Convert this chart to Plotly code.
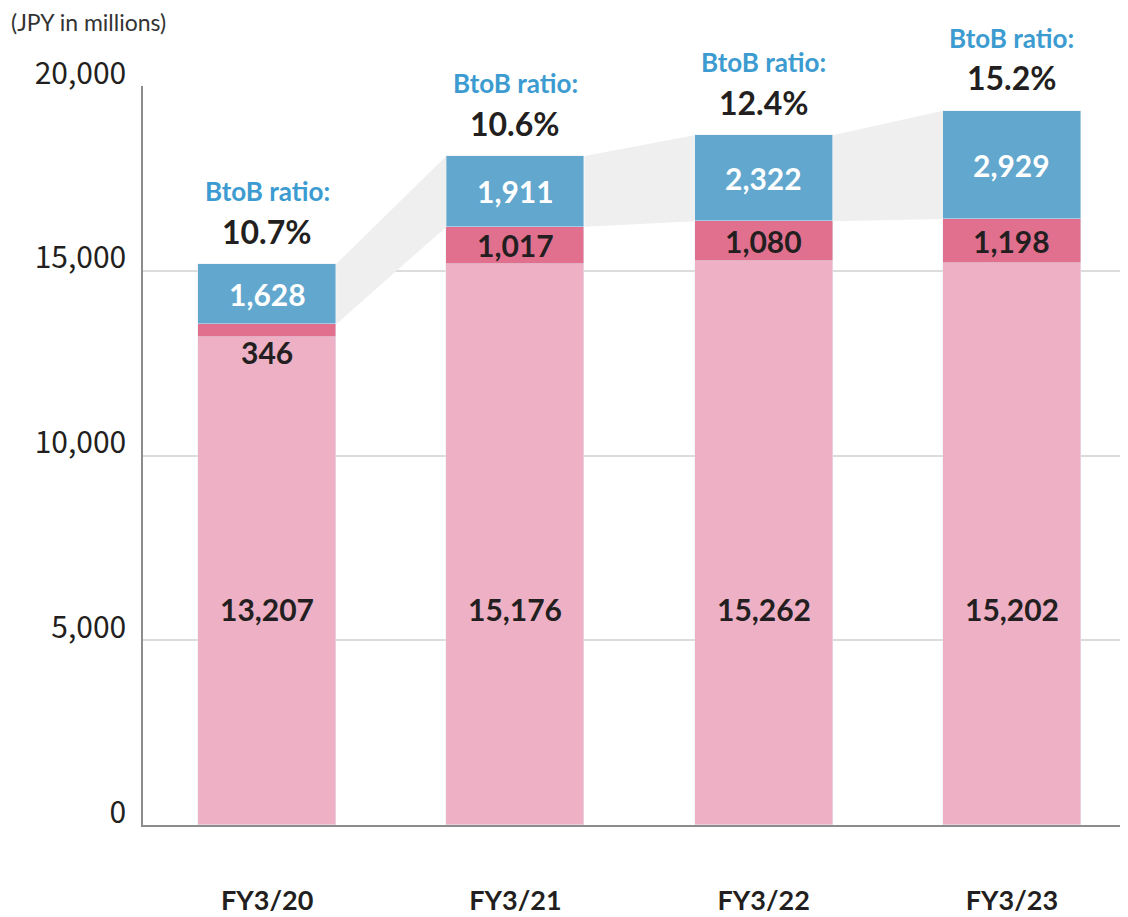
import plotly.graph_objects as go

categories = ["FY3/20", "FY3/21", "FY3/22", "FY3/23"]
btoc_values = [13207, 15176, 15262, 15202]
mid_values = [346, 1017, 1080, 1198]
btob_values = [1628, 1911, 2322, 2929]
btob_ratio = ["10.7%", "10.6%", "12.4%", "15.2%"]
y_ticks = [0, 5000, 10000, 15000, 20000]
y_tick_labels = ["0", "5,000", "10,000", "15,000", "20,000"]

PINK = "#EDB0C5"
RED = "#E1708F"
BLUE = "#62A7CE"
LABEL_BLUE = "#3C9BD0"
DARK = "#231F20"
FONT = "Lato"
W = 0.556

x = list(range(len(categories)))
fig = go.Figure()

# connector polygons between the BtoB segments
for i in range(len(categories) - 1):
    lo0 = btoc_values[i] + mid_values[i]
    hi0 = lo0 + btob_values[i]
    lo1 = btoc_values[i + 1] + mid_values[i + 1]
    hi1 = lo1 + btob_values[i + 1]
    xa = x[i] + W / 2
    xb = x[i + 1] - W / 2
    fig.add_trace(go.Scatter(
        x=[xa, xb, xb, xa, xa], y=[lo0, lo1, hi1, hi0, lo0],
        fill="toself", fillcolor="#EFEFEF", mode="lines",
        line=dict(width=0, color="#EFEFEF"), hoverinfo="skip", showlegend=False))

fig.add_trace(go.Bar(x=x, y=btoc_values, marker_color=PINK, width=W, showlegend=False))
fig.add_trace(go.Bar(x=x, y=mid_values, marker_color=RED, width=W, showlegend=False))
fig.add_trace(go.Bar(x=x, y=btob_values, marker_color=BLUE, width=W, showlegend=False))

VAL = 30
ann = []
for i in range(len(categories)):
    b, m, t = btoc_values[i], mid_values[i], btob_values[i]
    total = b + m + t
    ann.append(dict(x=x[i], y=5850, text=f"<b>{b:,}</b>", showarrow=False,
                    font=dict(family=FONT, size=VAL, color=DARK)))
    if m < 600:
        ann.append(dict(x=x[i], y=b, yanchor="top", yshift=5, text=f"<b>{m:,}</b>",
                        showarrow=False, font=dict(family=FONT, size=VAL, color=DARK)))
    else:
        ann.append(dict(x=x[i], y=b + m / 2, text=f"<b>{m:,}</b>", showarrow=False,
                        font=dict(family=FONT, size=VAL, color=DARK)))
    ann.append(dict(x=x[i], y=b + m + t / 2, text=f"<b>{t:,}</b>", showarrow=False,
                    font=dict(family=FONT, size=VAL, color="white")))
    ann.append(dict(x=x[i], y=total, yanchor="middle", yshift=33, text=f"<b>{btob_ratio[i]}</b>",
                    showarrow=False, font=dict(family=FONT, size=32, color=DARK)))
    ann.append(dict(x=x[i], y=total, yanchor="middle", yshift=73, text="<b>BtoB ratio:</b>",
                    showarrow=False, font=dict(family=FONT, size=26, color=LABEL_BLUE)))

ann.append(dict(xref="paper", yref="paper", x=-0.1345, y=1.0, yshift=64, xanchor="left",
                yanchor="middle", text="(JPY in millions)", showarrow=False,
                font=dict(family=FONT, size=23, color="#333333")))

fig.update_layout(
    width=1128, height=917,
    margin=dict(l=135, r=0, t=78, b=100),
    barmode="stack", bargap=0,
    plot_bgcolor="white", paper_bgcolor="white",
    annotations=ann,
    xaxis=dict(tickmode="array", tickvals=x, ticktext=[f"<b>{c}</b>" for c in categories],
               range=[-0.5, 3.5], showgrid=False, zeroline=False, automargin=False,
               showline=True, linecolor="#8C8C8C", linewidth=2, ticks="",
               ticklabelstandoff=51,
               tickfont=dict(family=FONT, size=27, color=DARK)),
    yaxis=dict(range=[0, 20000], tickmode="array", tickvals=y_ticks, ticktext=y_tick_labels,
               showgrid=True, gridcolor="#DCDCDC", gridwidth=1.5, zeroline=False,
               automargin=False,
               showline=True, linecolor="#8C8C8C", linewidth=1.5, ticks="",
               ticklabelstandoff=9, ticklabelshift=-13,
               tickfont=dict(family="Noto Sans CJK JP", size=30, color=DARK)),
)

fig.write_html("out.html")
